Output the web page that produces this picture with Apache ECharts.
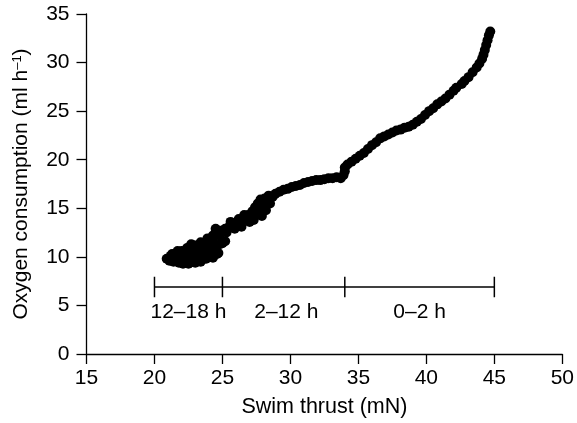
<!DOCTYPE html>
<html>
<head>
<meta charset="utf-8">
<script src="https://cdn.jsdelivr.net/npm/echarts@6/dist/echarts.min.js"></script>
<style>html,body{margin:0;padding:0;background:#fff}#c{width:577px;height:423px}</style>
</head>
<body>
<div id="c"></div>
<script>
// Swim thrust (mN) vs oxygen consumption (ml h-1)
var points = [
  // 12–18 h cluster
  [20.9,9.8],[21.1,9.6],[21.2,10.1],[21.4,9.5],[21.5,10.3],[21.6,9.8],[21.8,9.4],[21.9,10.0],[22.0,10.6],[22.1,9.3],
  [22.2,9.8],[22.3,10.4],[22.4,10.9],[22.5,9.3],[22.6,9.7],[22.7,10.2],[22.8,10.7],[22.9,11.2],[23.0,9.4],[23.1,9.9],
  [23.2,10.4],[23.3,10.9],[23.4,9.5],[23.5,10.1],[23.6,10.6],[23.7,11.3],[23.8,9.8],[23.9,10.3],[24.0,10.8],[24.1,11.6],
  [24.2,10.1],[24.4,10.5],[24.6,10.3],[24.5,11.0],[24.8,11.3],[25.0,11.4],[25.2,11.6],[24.3,11.8],[23.9,11.9],[23.4,11.5],
  [22.7,11.3],[21.7,10.6],[21.3,10.3],[22.0,9.5],[22.8,9.5],[23.6,9.8],[24.3,9.9],[24.7,10.4],
  // 2–12 h
  [24.3,12.2],[24.6,12.4],[24.9,12.7],[25.2,12.9],[25.5,13.1],[25.8,13.3],[26.1,13.4],[26.4,13.6],[26.7,13.9],[26.9,14.3],
  [24.8,12.2],[25.3,12.5],[25.9,12.9],[26.4,13.1],[25.6,13.6],[26.2,13.9],[26.6,14.3],[24.5,12.9],[27.0,13.6],[27.3,13.8],
  [27.1,14.1],[27.2,14.7],[27.4,15.1],[27.5,14.3],[27.6,15.5],[27.7,14.6],[27.8,15.9],[27.9,14.2],[28.0,15.3],[28.1,16.0],
  [28.2,14.8],[28.3,15.7],[28.4,16.3],[28.5,15.5],[28.7,16.2],[28.9,16.5],[29.2,16.7],[29.5,16.9],[29.8,17.0],[30.1,17.2],
  [30.4,17.3],[30.7,17.4],[31.0,17.6],[31.3,17.7],[31.6,17.8],[31.9,17.9],[32.2,17.9],[32.5,18.0],[32.8,18.1],[33.1,18.1],
  [33.4,18.2],[33.7,18.1],[33.9,18.4],[34.0,18.8],[34.0,19.2],
  // 0–2 h
  [34.2,19.5],[34.5,19.8],[34.8,20.1],[35.1,20.4],[35.4,20.7],[35.7,21.1],[36.0,21.5],[36.3,21.8],[36.6,22.2],[36.9,22.4],
  [37.2,22.6],[37.5,22.8],[37.8,23.0],[38.1,23.1],[38.4,23.3],[38.7,23.4],[39.0,23.6],[39.3,23.9],[39.6,24.2],[39.9,24.6],
  [40.2,25.0],[40.5,25.3],[40.8,25.7],[41.1,26.0],[41.4,26.3],[41.7,26.7],[42.0,27.1],[42.2,27.4],[42.6,27.8],[42.8,28.1],
  [43.1,28.5],[43.4,29.0],[43.7,29.5],[43.9,29.9],[44.1,30.4],[44.2,30.8],[44.3,31.3],[44.4,31.8],[44.5,32.3],[44.6,32.8],
  [44.7,33.2]
];
var phaseBounds = [20, 25, 34, 45];
var phaseLabels = ['12–18 h', '2–12 h', '0–2 h'];
var phaseLabelX = [22.5, 29.7, 39.5];
var bracketY = 6.9;
var bracketTickHalf = 1.05;
var phaseLabelY = 4.3;
var xTicks = [15, 50, 5];
var yTicks = [0, 35, 5];

var FONT = '"Liberation Sans", Arial, Helvetica, sans-serif';

var bracketLine = [[phaseBounds[0], bracketY], [phaseBounds[phaseBounds.length - 1], bracketY]];
var bracketTicks = [];
phaseBounds.forEach(function (b) {
  bracketTicks.push([b, bracketY - bracketTickHalf]);
  bracketTicks.push([b, bracketY + bracketTickHalf]);
  bracketTicks.push(null);
});
var labelData = phaseLabels.map(function (t, i) { return [phaseLabelX[i], phaseLabelY, t]; });

var chart = echarts.init(document.getElementById('c'), null, {renderer: 'canvas'});
chart.setOption({
  animation: false,
  grid: {left: 86.5, right: 14.3, top: 14, bottom: 67.5},
  xAxis: {
    type: 'value', min: xTicks[0], max: xTicks[1], interval: xTicks[2],
    name: 'Swim thrust (mN)', nameLocation: 'middle', nameGap: 42,
    nameTextStyle: {color: '#000', fontSize: 21.5, fontFamily: FONT},
    axisLine: {lineStyle: {color: '#000', width: 1.3}},
    axisTick: {length: 10, lineStyle: {color: '#000', width: 1.3}},
    axisLabel: {color: '#000', fontSize: 21, fontFamily: FONT, margin: 14},
    splitLine: {show: false}
  },
  yAxis: {
    type: 'value', min: yTicks[0], max: yTicks[1], interval: yTicks[2],
    name: 'Oxygen consumption (ml h{sup|–1})', nameLocation: 'middle', nameGap: 54,
    nameTextStyle: {color: '#000', fontSize: 21, fontFamily: FONT,
      rich: {sup: {fontSize: 13, fontFamily: FONT, color: '#000', verticalAlign: 'top', lineHeight: 22}}},
    axisLine: {lineStyle: {color: '#000', width: 1.3}},
    axisTick: {length: 10, lineStyle: {color: '#000', width: 1.3}},
    axisLabel: {color: '#000', fontSize: 21, fontFamily: FONT, margin: 17},
    splitLine: {show: false}
  },
  series: [
    {type: 'scatter', data: points, symbolSize: 10, itemStyle: {color: '#000', opacity: 1}},
    {type: 'line', data: bracketLine, symbol: 'none', lineStyle: {color: '#000', width: 1.5}},
    {type: 'line', data: bracketTicks, symbol: 'none', connectNulls: false, lineStyle: {color: '#000', width: 1.5}},
    {type: 'scatter', data: labelData, symbolSize: 0, itemStyle: {opacity: 1},
      label: {show: true, position: 'inside', color: '#000', fontSize: 21, fontFamily: FONT,
        formatter: function (p) { return p.value[2]; }}}
  ]
});
</script>
</body>
</html>
